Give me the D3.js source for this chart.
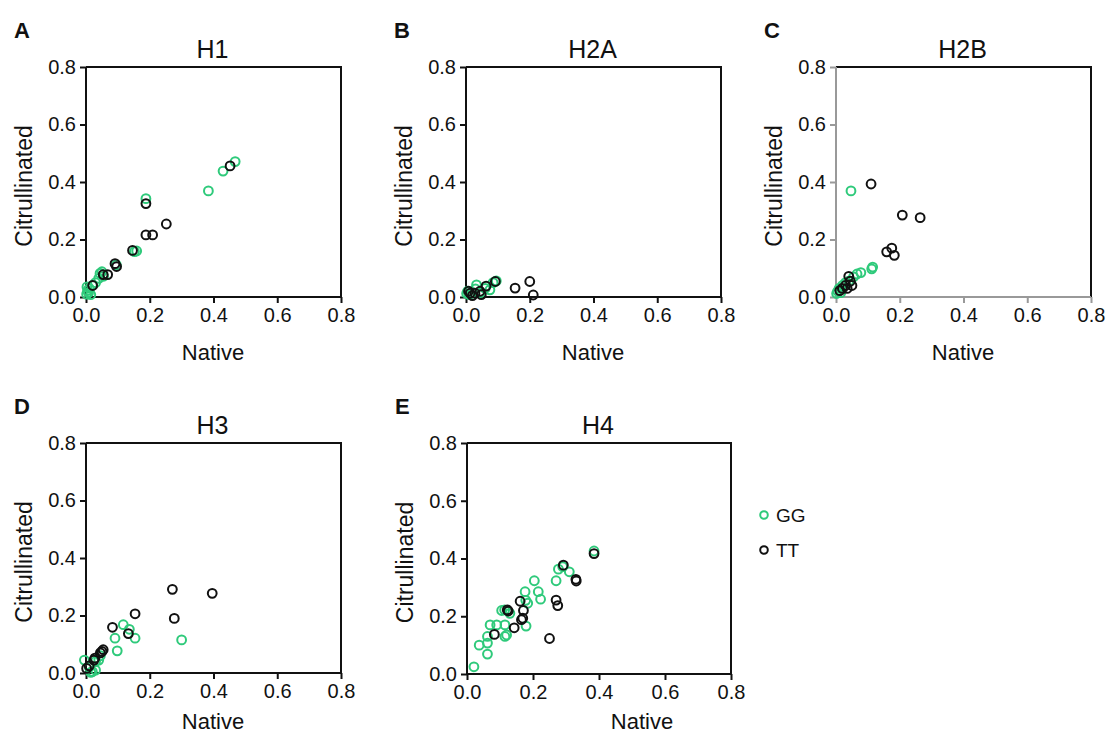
<!DOCTYPE html>
<html>
<head>
<meta charset="utf-8">
<script src="https://cdn.jsdelivr.net/npm/d3@7"></script>
<style>
  html, body { margin: 0; padding: 0; background: #fff; }
  svg text { font-family: "Liberation Sans", Arial, sans-serif; fill: #111; }
  .tick text { font-size: 20px; }
</style>
</head>
<body>
<svg id="chart" width="1107" height="736"></svg>
<script>
// values: [native, citrullinated]
const TICKS = [0, 0.2, 0.4, 0.6, 0.8];
const SERIES = ["GG", "TT"];

const h1GG = [[0.468,0.471],[0.430,0.438],[0.384,0.369],[0.188,0.342],[0.159,0.160],[0.152,0.158],[0.095,0.112],
  [0.044,0.082],[0.050,0.088],[0.055,0.072],[0.040,0.065],[0.030,0.050],[0.020,0.040],[0.010,0.030],
  [0.005,0.022],[0.008,0.015],[0.015,0.008],[0.003,0.035],[0.002,0.010]];
const h1TT = [[0.452,0.456],[0.188,0.325],[0.252,0.254],[0.188,0.216],[0.209,0.216],[0.146,0.162],[0.091,0.116],
  [0.096,0.106],[0.054,0.078],[0.068,0.078],[0.021,0.040]];

const h2aGG = [[0.095,0.056],[0.085,0.050],[0.033,0.042],[0.060,0.030],[0.075,0.025],[0.002,0.012],[0.005,0.020],
  [0.010,0.008],[0.020,0.015],[0.045,0.015],[0.030,0.028]];
const h2aTT = [[0.200,0.054],[0.211,0.007],[0.154,0.031],[0.092,0.054],[0.063,0.038],[0.044,0.020],[0.048,0.008],
  [0.013,0.013],[0.028,0.013],[0.008,0.020],[0.020,0.005]];

const h2bGG = [[0.047,0.369],[0.115,0.104],[0.112,0.098],[0.078,0.085],[0.066,0.080],[0.055,0.070],[0.040,0.055],
  [0.030,0.050],[0.020,0.040],[0.010,0.030],[0.005,0.020],[0.002,0.012],[0.015,0.015]];
const h2bTT = [[0.110,0.393],[0.208,0.285],[0.264,0.276],[0.159,0.157],[0.175,0.170],[0.183,0.145],[0.040,0.072],
  [0.045,0.055],[0.050,0.040],[0.030,0.040],[0.020,0.030],[0.012,0.022],[0.035,0.030]];

const h3GG = [[0.300,0.115],[0.117,0.168],[0.136,0.152],[0.154,0.121],[0.091,0.121],[0.098,0.077],[0.045,0.060],
  [0.040,0.045],[0.030,0.040],[-0.005,0.045],[0.020,0.005],[0.030,0.010],[0.010,0.020],[0.015,0.002]];
const h3TT = [[0.271,0.291],[0.396,0.277],[0.277,0.190],[0.154,0.206],[0.083,0.159],[0.133,0.137],[0.054,0.081],
  [0.050,0.075],[0.045,0.070],[0.028,0.052],[0.025,0.045],[0.010,0.025],[0.002,0.016]];

const h4GG = [[0.385,0.426],[0.277,0.363],[0.290,0.372],[0.310,0.354],[0.270,0.323],[0.204,0.323],[0.216,0.285],
  [0.223,0.259],[0.176,0.285],[0.184,0.245],[0.178,0.255],[0.114,0.222],[0.105,0.220],[0.130,0.210],
  [0.179,0.166],[0.070,0.170],[0.090,0.170],[0.115,0.170],[0.115,0.130],[0.120,0.135],[0.062,0.130],
  [0.037,0.100],[0.062,0.107],[0.062,0.069],[0.021,0.025]];
const h4TT = [[0.385,0.417],[0.292,0.377],[0.330,0.328],[0.331,0.322],[0.270,0.256],[0.275,0.237],[0.161,0.252],
  [0.171,0.220],[0.122,0.222],[0.125,0.218],[0.169,0.193],[0.165,0.188],[0.143,0.160],[0.083,0.137],[0.250,0.123]];

const GREEN = "#2fca7b";
const COLORS = { GG: GREEN, TT: "#111" };

// panel layout (pixel boxes of each plot area)
const panels = [
  { letter: "A", title: "H1",  gg: h1GG,  tt: h1TT,  x0: 86,  y0: 67,  w: 255, h: 230, axisColor: "#111", nativeX: 213 },
  { letter: "B", title: "H2A", gg: h2aGG, tt: h2aTT, x0: 466, y0: 67,  w: 255, h: 230, axisColor: "#111", nativeX: 593 },
  { letter: "C", title: "H2B", gg: h2bGG, tt: h2bTT, x0: 836, y0: 67,  w: 255, h: 230, axisColor: "#999", nativeX: 963 },
  { letter: "D", title: "H3",  gg: h3GG,  tt: h3TT,  x0: 86,  y0: 443, w: 255, h: 230, axisColor: "#111", nativeX: 213 },
  { letter: "E", title: "H4",  gg: h4GG,  tt: h4TT,  x0: 467, y0: 443, w: 264, h: 231, axisColor: "#111", nativeX: 642 }
];

const svg = d3.select("#chart");

panels.forEach(p => {
  const g = svg.append("g").attr("transform", `translate(${p.x0},${p.y0})`);
  const x = d3.scaleLinear().domain([0, 0.8]).range([0, p.w]);
  const y = d3.scaleLinear().domain([0, 0.8]).range([p.h, 0]);

  // top and right frame
  g.append("path")
    .attr("d", `M0,0H${p.w}V${p.h}`)
    .attr("fill", "none")
    .attr("stroke", "#111")
    .attr("stroke-width", 2);

  const xAxis = d3.axisBottom(x).tickValues(TICKS).tickFormat(d3.format(".1f")).tickSize(6).tickPadding(5);
  const yAxis = d3.axisLeft(y).tickValues(TICKS).tickFormat(d3.format(".1f")).tickSize(6).tickPadding(4);

  const gx = g.append("g").attr("transform", `translate(0,${p.h})`).call(xAxis);
  const gy = g.append("g").call(yAxis);
  [gx, gy].forEach(a => {
    a.select(".domain").attr("stroke", p.axisColor).attr("stroke-width", 2);
    a.selectAll(".tick line").attr("stroke", p.axisColor).attr("stroke-width", 2);
    a.selectAll(".tick text").attr("fill", "#111");
  });
  gx.select(".domain").attr("d", `M-1,0H${p.w}`);
  gy.select(".domain").attr("d", `M0,0V${p.h + 1}`);

  // points: GG first, TT drawn on top
  [["GG", p.gg], ["TT", p.tt]].forEach(([key, pts]) => {
    g.append("g").selectAll("circle")
      .data(pts)
      .join("circle")
      .attr("cx", d => x(d[0]))
      .attr("cy", d => y(d[1]))
      .attr("r", 4.4)
      .attr("fill", "none")
      .attr("stroke", COLORS[key])
      .attr("stroke-width", 2);
  });

  // labels
  svg.append("text")
    .attr("x", p.x0 - 72).attr("y", p.y0 - 29)
    .attr("font-size", 22).attr("font-weight", "bold")
    .text(p.letter);
  svg.append("text")
    .attr("x", p.x0 + p.w / 2 - 1).attr("y", p.y0 - 9)
    .attr("text-anchor", "middle").attr("font-size", 25)
    .text(p.title);
  svg.append("text")
    .attr("transform", `translate(${p.x0 - 54},${p.y0 + p.h / 2 + 4}) rotate(-90)`)
    .attr("text-anchor", "middle").attr("font-size", 23)
    .text("Citrullinated");
  svg.append("text")
    .attr("x", p.nativeX).attr("y", Math.min(p.y0 + p.h + 63, 729))
    .attr("text-anchor", "middle").attr("font-size", 22)
    .text("Native");
});

// legend
const legend = svg.append("g").attr("transform", "translate(764,515)");
SERIES.forEach((s, i) => {
  const row = legend.append("g").attr("transform", `translate(0,${i * 35})`);
  row.append("circle").attr("r", 3.8).attr("fill", "none")
    .attr("stroke", COLORS[s]).attr("stroke-width", 2);
  row.append("text").attr("x", 12).attr("y", 7).attr("font-size", 19).text(s);
});
</script>
</body>
</html>
